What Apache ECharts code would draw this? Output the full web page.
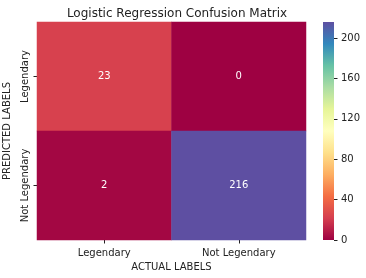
<!DOCTYPE html>
<html>
<head>
<meta charset="utf-8">
<script src="https://cdn.jsdelivr.net/npm/echarts@6/dist/echarts.min.js"></script>
<style>html,body{margin:0;padding:0;background:#fff;}#c{width:366px;height:278px;}</style>
</head>
<body>
<div id="c"></div>
<script>
var actualLabels = ['Legendary', 'Not Legendary'];
var predictedLabels = ['Legendary', 'Not Legendary'];
// [actualIndex, predictedIndex, count]
var cells = [[0, 0, 23], [1, 0, 0], [0, 1, 2], [1, 1, 216]];
var colorbarTicks = [0, 40, 80, 120, 160, 200];
var spectral = ['#9e0142','#d53e4f','#f46d43','#fdae61','#fee08b','#ffffbf','#e6f598','#abdda4','#66c2a5','#3288bd','#5e4fa2'];

var vmin = 0, vmax = Math.max.apply(null, cells.map(function (c) { return c[2]; }));
var font = 'DejaVu Sans';
var txt = '#222';

var chart = echarts.init(document.getElementById('c'), null, {renderer: 'canvas'});
chart.setOption({
  animation: false,
  backgroundColor: '#fff',
  title: {
    text: 'Logistic Regression Confusion Matrix',
    left: 172, top: 3, textAlign: 'center',
    textStyle: {fontFamily: font, fontSize: 12, fontWeight: 'normal', color: txt}
  },
  grid: [
    {left: 37, top: 22, width: 269, height: 218, outerBoundsMode: 'none', containLabel: false},
    {left: 323, top: 22, width: 11, height: 218, outerBoundsMode: 'none', containLabel: false}
  ],
  xAxis: [
    {
      type: 'category', gridIndex: 0, data: actualLabels,
      name: 'ACTUAL LABELS', nameLocation: 'middle', nameGap: 16,
      nameTextStyle: {fontFamily: font, fontSize: 10, color: txt, verticalAlign: 'top'},
      axisLine: {show: false},
      axisTick: {show: true, alignWithLabel: true, length: 3.5, lineStyle: {color: txt}},
      axisLabel: {fontFamily: font, fontSize: 10, color: txt, margin: 8},
      splitLine: {show: false}
    },
    {type: 'category', gridIndex: 1, data: ['cb'], show: false}
  ],
  yAxis: [
    {
      type: 'category', gridIndex: 0, data: predictedLabels, inverse: true,
      name: 'PREDICTED LABELS', nameLocation: 'middle', nameGap: 15, nameRotate: 90,
      nameTextStyle: {fontFamily: font, fontSize: 10, color: txt},
      axisLine: {show: false},
      axisTick: {show: true, alignWithLabel: true, length: 3.5, lineStyle: {color: txt}},
      axisLabel: {fontFamily: font, fontSize: 10, color: txt, rotate: 90, margin: 7,
        align: 'center', verticalAlign: 'bottom'},
      splitLine: {show: false}
    },
    {
      type: 'value', gridIndex: 1, position: 'right', min: vmin, max: vmax, interval: 40,
      axisLine: {show: false},
      axisTick: {show: true, length: 3.5, lineStyle: {color: txt}, customValues: colorbarTicks},
      axisLabel: {fontFamily: font, fontSize: 10, color: txt, margin: 7, customValues: colorbarTicks},
      splitLine: {show: false}
    }
  ],
  visualMap: {
    show: false, seriesIndex: 0, min: vmin, max: vmax, dimension: 2,
    inRange: {color: spectral}
  },
  series: [
    {
      type: 'heatmap', xAxisIndex: 0, yAxisIndex: 0, data: cells,
      label: {show: true, color: '#fff', fontFamily: font, fontSize: 10},
      itemStyle: {borderWidth: 0}
    },
    {
      type: 'bar', xAxisIndex: 1, yAxisIndex: 1, data: [vmax], barWidth: '100%',
      silent: true,
      itemStyle: {
        color: new echarts.graphic.LinearGradient(0, 1, 0, 0,
          spectral.map(function (c, i) { return {offset: i / (spectral.length - 1), color: c}; }))
      }
    }
  ]
});
</script>
</body>
</html>
